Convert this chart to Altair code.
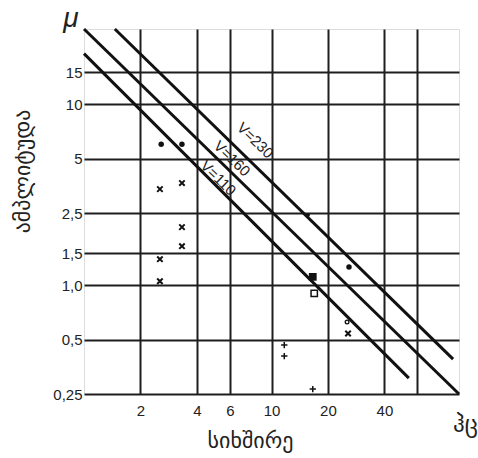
import altair as alt
import pandas as pd

# axis grid / tick values
x_grid = [2, 4, 6, 10, 20, 40, 60]
x_unlabeled = [60]
y_grid = [0.25, 0.5, 1, 1.5, 2.5, 5, 10, 15]
y_labels = ["0,25", "0,5", "1,0", "1,5", "2,5", "5", "10", "15"]

# velocity lines (endpoints)
line_names = ["V=230", "V=160", "V=110"]
line_f1 = [1.46, 1.0, 1.0]
line_a1 = [26.0, 26.0, 19.0]
line_f2 = [93.0, 100.0, 54.0]
line_a2 = [0.39, 0.25, 0.306]
label_f = [8.2, 6.15, 5.2]
label_a = [6.3, 5.0, 3.9]

# observations
dot_f = [2.58, 3.33, 25.9]
dot_a = [6.0, 6.0, 1.26]
smalldot_f = [15.7]
smalldot_a = [2.44]
cross_f = [2.54, 3.33, 3.33, 3.33, 2.54, 2.54, 25.6]
cross_a = [3.39, 3.66, 2.09, 1.64, 1.39, 1.05, 0.54]
plus_f = [11.7, 11.7, 16.6]
plus_a = [0.466, 0.405, 0.266]
fsq_f = [16.6]
fsq_a = [1.11]
osq_f = [16.9]
osq_a = [0.90]
ocirc_f = [25.3]
ocirc_a = [0.625]

W, H = 375, 365
FONT = "Liberation Sans"
GEO = "DejaVu Sans"

lab_expr = " : ".join(
    f"datum.value == {v} ? '{l}'" for v, l in zip(y_grid, y_labels)
) + " : ''"
x_expr = " || ".join(f"datum.value == {v}" for v in x_unlabeled) + " ? '' : '' + datum.value"

xs = alt.Scale(type="log", domain=[1, 100], nice=False)
ys = alt.Scale(type="log", domain=[0.25, 26], nice=False)

xaxis = alt.Axis(values=x_grid, labelExpr=x_expr, grid=True, gridColor="#1e1e1e",
                 gridWidth=2, ticks=False, domain=False, labelFont=FONT, labelFontSize=15,
                 labelColor="#222", labelPadding=9, title="სიხშირე", titleFont=GEO,
                 titleFontSize=22, titleFontWeight="normal", titleColor="#222",
                 titleX=166, titleY=46, titleAlign="center", titleBaseline="middle")
yaxis = alt.Axis(values=y_grid, labelExpr=lab_expr, grid=True, gridColor="#1e1e1e",
                 gridWidth=2, ticks=False, domain=False, labelFont=FONT, labelFontSize=15,
                 labelColor="#222", labelPadding=2, title="ამპლიტუდა", titleFont=GEO,
                 titleFontSize=22, titleFontWeight="normal", titleColor="#222",
                 titleX=-62, titleY=142, titleAlign="center", titleBaseline="middle",
                 titleAngle=270)

lines_df = pd.DataFrame({"name": line_names, "f1": line_f1, "a1": line_a1,
                         "f2": line_f2, "a2": line_a2, "lf": label_f, "la": label_a})

base_axes = alt.Chart(pd.DataFrame({"f": [1, 100], "a": [0.25, 26]})).mark_point(opacity=0).encode(
    x=alt.X("f:Q", scale=xs, axis=xaxis),
    y=alt.Y("a:Q", scale=ys, axis=yaxis),
)

rules = alt.Chart(lines_df).mark_rule(color="#111", strokeWidth=3).encode(
    x=alt.X("f1:Q", scale=xs), y=alt.Y("a1:Q", scale=ys),
    x2="f2:Q", y2="a2:Q",
)

labels = alt.Chart(lines_df).mark_text(angle=44, font=FONT, fontSize=15, color="#222").encode(
    x=alt.X("lf:Q", scale=xs), y=alt.Y("la:Q", scale=ys), text="name:N",
)

def pts(fl, al):
    return pd.DataFrame({"f": fl, "a": al})

enc = dict(x=alt.X("f:Q", scale=xs), y=alt.Y("a:Q", scale=ys))

dots = alt.Chart(pts(dot_f, dot_a)).mark_point(shape="circle", filled=True, size=30,
                                                color="#111", opacity=1).encode(**enc)
sdots = alt.Chart(pts(smalldot_f, smalldot_a)).mark_point(shape="circle", filled=True, size=12,
                                                           color="#111", opacity=1).encode(**enc)
XPATH = "M-1,-1L1,1M-1,1L1,-1"
PPATH = "M0,-1L0,1M-1,0L1,0"
crosses = alt.Chart(pts(cross_f, cross_a)).mark_point(shape=XPATH, filled=False, size=30,
                                                       color="#111", strokeWidth=2, opacity=1).encode(**enc)
pluses = alt.Chart(pts(plus_f, plus_a)).mark_point(shape=PPATH, filled=False, size=40,
                                                    color="#111", strokeWidth=1.5, opacity=1).encode(**enc)
fsq = alt.Chart(pts(fsq_f, fsq_a)).mark_point(shape="square", filled=True, size=60,
                                               color="#111", opacity=1).encode(**enc)
osq = alt.Chart(pts(osq_f, osq_a)).mark_point(shape="square", filled=False, size=40,
                                               color="#111", strokeWidth=1.5, opacity=1).encode(**enc)
ocirc = alt.Chart(pts(ocirc_f, ocirc_a)).mark_point(shape="circle", filled=False, size=14,
                                                     color="#111", strokeWidth=1.3, opacity=1).encode(**enc)

mu = alt.Chart(pd.DataFrame({"t": ["μ"]})).mark_text(
    font=FONT, fontStyle="italic", fontSize=28, align="center", baseline="alphabetic", color="#222"
).encode(x=alt.value(-13), y=alt.value(-2), text="t:N")

hz = alt.Chart(pd.DataFrame({"t": ["ჰც"]})).mark_text(
    font=GEO, fontSize=23, align="left", baseline="middle", color="#222"
).encode(x=alt.value(369), y=alt.value(396), text="t:N")

chart = alt.layer(base_axes, rules, labels, dots, sdots, crosses, pluses, fsq, osq, ocirc, mu, hz).properties(
    width=W, height=H,
    padding={"left": 84, "top": 29, "right": 19, "bottom": 64},
    autosize=alt.AutoSizeParams(type="none"),
).configure_view(stroke="#111", strokeWidth=2).configure(background="white")

chart.save("out.html", embed_options={"renderer": "svg", "actions": False})
